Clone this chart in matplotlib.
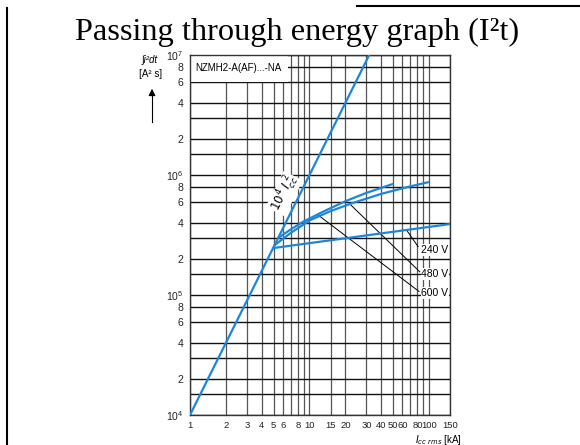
import matplotlib.pyplot as plt
from matplotlib.lines import Line2D
from matplotlib.patches import Rectangle
from matplotlib.ticker import FixedLocator, NullFormatter

plt.rcParams['font.family'] = ['Liberation Sans', 'DejaVu Sans']
plt.rcParams['mathtext.default'] = 'regular'

# x axis: I_cc rms [kA]
x_major = [1, 2, 3, 4, 5, 6, 8, 10, 15, 20, 30, 40, 50, 60, 80, 100, 150]
x_labels = ['1', '2', '3', '4', '5', '6', '8', '10', '15', '20', '30', '40', '50', '60', '80', '100', '150']
x_minor = [7, 9, 70, 90]

# y axis: let-through energy [A²s]
y_major = [1e4, 2e4, 4e4, 6e4, 8e4, 1e5, 2e5, 4e5, 6e5, 8e5, 1e6, 2e6, 4e6, 6e6, 8e6, 1e7]
y_labels = ['$10^4$', '2', '4', '6', '8', '$10^5$', '2', '4', '6', '8', '$10^6$', '2', '4', '6', '8', '$10^7$']
y_minor = [1.5e4, 3e4, 1.5e5, 3e5, 1.5e6, 3e6]

# reference line 10^4 * Icc^2
ref_x = [1, 31.62]
ref_y = [1e4, 1e7]

# 240 V
v240_x = [4.95, 150]
v240_y = [2.46e5, 3.9e5]

# upper curve (ends at ~50 kA)
upper_x = [5.5, 7, 8.86, 13, 20.4, 30, 49.5]
upper_y = [3.0e5, 3.53e5, 4.08e5, 4.95e5, 6.1e5, 7.1e5, 8.4e5]

# lower curve (ends at ~100 kA)
lower_x = [5.1, 7, 10.1, 15, 22.5, 40, 65, 98]
lower_y = [2.6e5, 3.3e5, 4.2e5, 5.0e5, 5.8e5, 6.97e5, 7.9e5, 8.7e5]

# leader lines: (point on curve) -> (label)
leaders = {
    '240 V': ([64.9, 81.1], [3.48e5, 2.53e5], (86.5, 2.37e5)),
    '480 V': ([22.2, 83.8], [5.62e5, 1.56e5], (86.5, 1.5e5)),
    '600 V': ([11.8, 82.6], [4.64e5, 1.07e5], (86.5, 1.04e5)),
}

blue = '#1c87da'

fig = plt.figure(figsize=(5.8, 4.45), dpi=100)
ax = fig.add_axes([190 / 580, 30 / 445, 260 / 580, 360 / 445])
ax.set_xscale('log')
ax.set_yscale('log')
ax.set_xlim(1, 150)
ax.set_ylim(1e4, 1e7)

ax.xaxis.set_major_locator(FixedLocator(x_major))
ax.xaxis.set_minor_locator(FixedLocator(x_minor))
ax.set_xticklabels(x_labels)
ax.xaxis.set_minor_formatter(NullFormatter())
ax.yaxis.set_major_locator(FixedLocator(y_major))
ax.yaxis.set_minor_locator(FixedLocator(y_minor))
ax.set_yticklabels(y_labels)
ax.yaxis.set_minor_formatter(NullFormatter())
ax.tick_params(which='both', length=0, labelsize=6.8, colors='#222222')
ax.tick_params(axis='x', pad=4)
ax.tick_params(axis='y', pad=5, labelsize=7.5)

ax.set_axisbelow(True)
ax.grid(which='both', axis='x', color='#555555', lw=0.9)
ax.grid(which='both', axis='y', color='#111111', lw=1.0)
for s in ax.spines.values():
    s.set_color('#333333')
    s.set_linewidth(1.0)

# product label box
ax.add_patch(Rectangle((1, 6e6), 5.6, 4e6, facecolor='white', edgecolor='none', zorder=1))
ax.text(1.1, 7.8e6, 'NZMH2-A(AF)...-NA', fontsize=7, va='center', ha='left', zorder=3)

ax.plot(ref_x, ref_y, color=blue, lw=1.6, zorder=4)
ax.plot(v240_x, v240_y, color=blue, lw=1.6, zorder=4)
ax.plot(upper_x, upper_y, color=blue, lw=1.6, zorder=4)
ax.plot(lower_x, lower_y, color=blue, lw=1.6, zorder=4)

ax.text(6.15, 7.0e5, r'$\mathit{10^4\ I_{cc}^{\ 2}}$', rotation=63.4, fontsize=8.5,
        ha='center', va='center', zorder=3,
        bbox=dict(facecolor='white', edgecolor='none', pad=0.5))

for label, (lx, ly, pos) in leaders.items():
    ax.plot(lx, ly, color='black', lw=0.7, zorder=3)
    ax.text(pos[0], pos[1], label, fontsize=7.5, ha='left', va='center', zorder=5,
            bbox=dict(facecolor='white', edgecolor='none', pad=0.6))

# axis labels
fig.text(150 / 580, 1 - 60 / 445, '∫i²dt', fontsize=7, style='italic', ha='center', va='center')
fig.text(151 / 580, 1 - 74 / 445, '[A² s]', fontsize=7, ha='center', va='center')
fig.add_artist(Line2D([152 / 580, 152 / 580], [1 - 122 / 445, 1 - 95 / 445],
                      color='black', lw=0.8, transform=fig.transFigure))
ax.annotate('', xy=(152 / 580, 1 - 86 / 445), xytext=(152 / 580, 1 - 98 / 445),
            xycoords='figure fraction', textcoords='figure fraction',
            arrowprops=dict(arrowstyle='-|>', color='black', lw=0.8, mutation_scale=10))
fig.text(438 / 580, 5 / 445, r'$\mathit{I}_{\mathit{cc\ rms}}$ [kA]', fontsize=7,
         ha='center', va='center')

# page frame and title
fig.add_artist(Line2D([7 / 580, 7 / 580], [0, 1 - 8 / 445], color='black', lw=1.5,
                      transform=fig.transFigure))
fig.add_artist(Line2D([357 / 580, 1], [1 - 6 / 445, 1 - 6 / 445], color='black', lw=1.5,
                      transform=fig.transFigure))
fig.text(297 / 580, 1 - 32 / 445, 'Passing through energy graph (I²t)',
         family='Liberation Serif', fontsize=23.3, ha='center', va='center')

fig.savefig('out.png', dpi=100)
